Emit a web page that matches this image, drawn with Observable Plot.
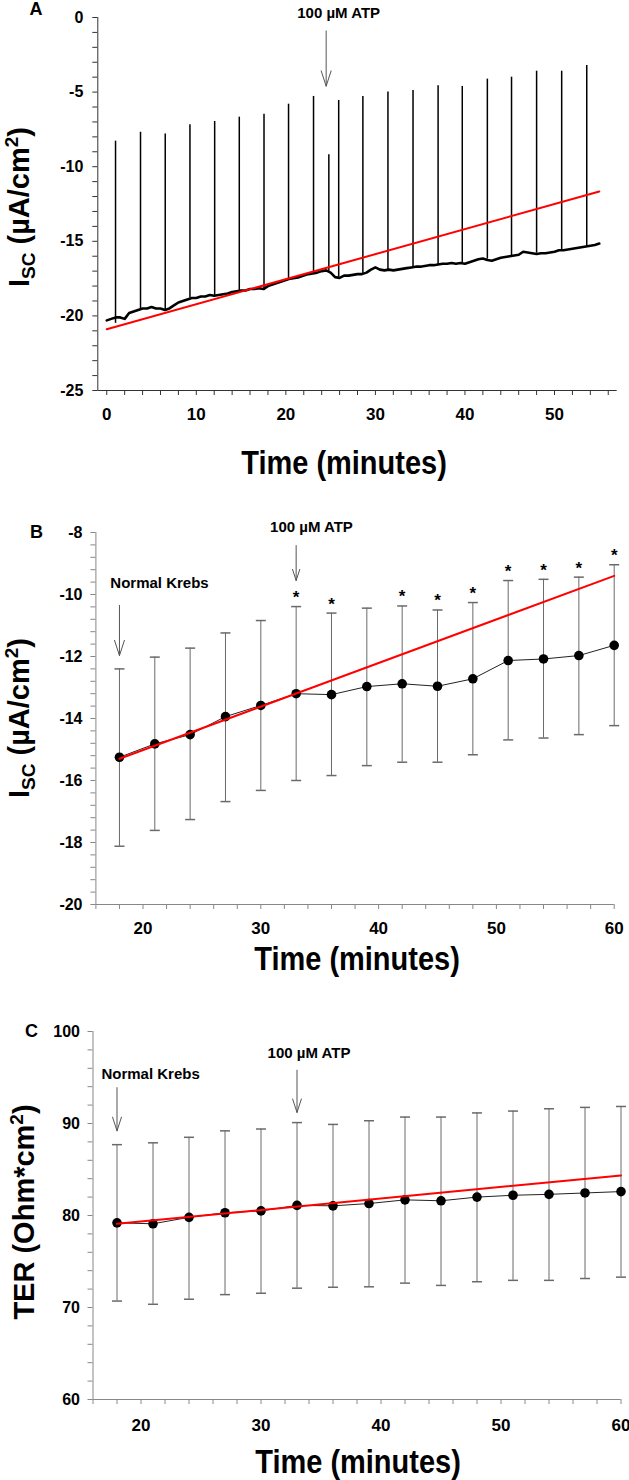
<!DOCTYPE html>
<html><head><meta charset="utf-8">
<script src="https://cdn.jsdelivr.net/npm/d3@7"></script>
<script src="https://cdn.jsdelivr.net/npm/@observablehq/plot@0.6"></script>
<style>
body{margin:0;background:#fff;}
#fig{position:relative;width:629px;height:1480px;overflow:hidden;background:#fff;}
</style></head><body><div id="fig"></div>
<script>
// ---------- Panel A data ----------
const aBaseStep = 0.5; // sampling of the read-off baseline trace (minutes)
const aBaseV = [
 -20.3,-20.2,-20.1,-20.1,-20.2,-19.8,-19.7,-19.6,-19.5,-19.5,
 -19.4,-19.5,-19.5,-19.6,-19.5,-19.3,-19.1,-19.0,-18.9,-18.8,
 -18.8,-18.7,-18.7,-18.6,-18.65,-18.6,-18.55,-18.5,-18.4,-18.35,
 -18.3,-18.3,-18.2,-18.2,-18.15,-18.2,-18.0,-17.9,-17.8,-17.7,
 -17.6,-17.5,-17.45,-17.4,-17.3,-17.2,-17.15,-17.1,-17.0,-16.95,
 -17.1,-17.4,-17.45,-17.3,-17.3,-17.25,-17.2,-17.2,-17.1,-16.9,
 -16.75,-16.9,-16.95,-16.9,-16.95,-16.9,-16.85,-16.8,-16.75,-16.7,
 -16.7,-16.65,-16.6,-16.6,-16.55,-16.5,-16.5,-16.45,-16.5,-16.45,
 -16.5,-16.4,-16.3,-16.2,-16.15,-16.25,-16.3,-16.2,-16.1,-16.05,
 -16.0,-15.95,-15.9,-15.7,-15.75,-15.8,-15.85,-15.8,-15.8,-15.75,
 -15.7,-15.6,-15.6,-15.55,-15.5,-15.45,-15.4,-15.35,-15.3,-15.25,
 -15.15];
const aBaseT = aBaseV.map((_, i) => i * aBaseStep);
const aSpikeT   = [0.98,3.77,6.53,9.29,12.05,14.8,17.56,20.3,23.09,24.8,25.9,28.6,31.4,34.2,37.0,39.7,42.5,45.2,48.0,50.8,53.6];
const aSpikeTop = [-8.29,-7.69,-7.80,-7.19,-6.97,-6.68,-6.48,-5.81,-5.29,-9.2,-5.56,-5.29,-5.0,-4.89,-4.58,-4.62,-4.13,-4.0,-3.6,-3.6,-3.22];
const aSpikeBot = [-20.5,-19.6,-19.7,-18.8,-18.7,-18.4,-18.3,-17.6,-17.1,-17.0,-17.4,-17.2,-16.9,-16.8,-16.6,-16.5,-16.2,-16.0,-15.8,-15.6,-15.4];
const aFitT = [0, 55];
const aFitV = [-20.9, -11.66];
const aNoteText = ["100 µM ATP"], aNoteT = [25.9], aNoteV = [0.3];
const aArrowT = [24.5], aArrowFrom = [-0.9], aArrowTo = [-4.6];

// ---------- Panel B data ----------
const bTime  = [18,21,24,27,30,33,36,39,42,45,48,51,54,57,60];
const bMean  = [-15.25,-14.82,-14.52,-13.94,-13.58,-13.20,-13.23,-12.97,-12.88,-12.96,-12.72,-12.13,-12.08,-11.97,-11.64];
const bUpper = [-12.40,-12.02,-11.73,-11.24,-10.84,-10.39,-10.60,-10.44,-10.37,-10.50,-10.26,-9.55,-9.51,-9.44,-9.04];
const bLower = [-18.12,-17.61,-17.26,-16.68,-16.32,-16.00,-15.84,-15.52,-15.41,-15.41,-15.17,-14.69,-14.63,-14.52,-14.23];
const bStars = [33,36,42,45,48,51,54,57,60];
const bFitT = [18, 60], bFitV = [-15.3, -9.4];
const bNoteText = ["Normal Krebs", "100 µM ATP"], bNoteT = [21.4, 34.3], bNoteV = [-9.65, -7.84];
const bArrowT = [18, 33], bArrowFrom = [-10.35, -8.42], bArrowTo = [-11.97, -9.55];

// ---------- Panel C data ----------
const cTime  = [18,21,24,27,30,33,36,39,42,45,48,51,54,57,60];
const cMean  = [79.2,79.1,79.8,80.3,80.5,81.1,81.05,81.3,81.7,81.6,82.0,82.2,82.3,82.45,82.6];
const cUpper = [87.7,87.9,88.5,89.2,89.4,90.1,89.9,90.3,90.7,90.7,91.15,91.35,91.6,91.75,91.85];
const cLower = [70.7,70.35,70.9,71.4,71.55,72.1,72.2,72.25,72.65,72.4,72.8,72.95,72.95,73.15,73.3];
const cFitT = [18, 60], cFitV = [79.1, 84.35];
const cNoteText = ["Normal Krebs", "100 µM ATP"], cNoteT = [20.8, 34.0], cNoteV = [95.4, 97.6];
const cArrowT = [18, 33], cArrowFrom = [93.9, 95.8], cArrowTo = [89.2, 91.2];

// ---------- helpers ----------
const FONT = '"Liberation Sans", Arial, Helvetica, sans-serif';
const fig = document.getElementById("fig");
const capSymbol = {draw(ctx, size) { const w = Math.sqrt(size / Math.PI); ctx.moveTo(-w, 0); ctx.lineTo(w, 0); }};
const isMult = (d, m) => { const q = d / m; return Math.abs(q - Math.round(q)) < 1e-6; };
const fmt = d => String(Math.round(d * 1000) / 1000);
const ticks = (a, b, step) => d3.range(0, Math.round((b - a) / step) + 1).map(i => a + i * step);

function axes(xd, yd, xt, yt, xMajor, yMajor, color, xPad, yPad) {
  return [
    Plot.axisY({ticks: yt, tickFormat: d => isMult(d, yMajor) ? fmt(d) : "", tickSize: 5, tickPadding: yPad,
      fontSize: 16, fontWeight: "bold", stroke: color, fill: "black", label: null}),
    Plot.axisX({ticks: xt, tickFormat: d => isMult(d, xMajor) ? fmt(d) : "", tickSize: 5, tickPadding: xPad,
      fontSize: 17, fontWeight: "bold", stroke: color, fill: "black", label: null}),
    Plot.ruleX([xd[0]], {stroke: color}),
    Plot.ruleY([yd[0]], {stroke: color})
  ];
}
function notes(T, V, S, AT, AF, ATo) {
  return [
    Plot.arrow(d3.range(AT.length), {x1: i => AT[i], x2: i => AT[i], y1: i => AF[i], y2: i => ATo[i],
      stroke: "#555", strokeWidth: 1, headAngle: 36, headLength: 24}),
    Plot.text(d3.range(S.length), {x: i => T[i], y: i => V[i], text: i => S[i], fontSize: 15, fontWeight: "bold",
      fill: "black", lineAnchor: "middle"})
  ];
}
function errorMarks(t, mean, up, lo, fitT, fitV) {
  const idx = d3.range(t.length);
  return [
    Plot.ruleX(idx, {x: i => t[i], y1: i => lo[i], y2: i => up[i], stroke: "#6a6a6a", strokeWidth: 1}),
    Plot.dot(idx, {x: i => t[i], y: i => up[i], symbol: capSymbol, r: 5, stroke: "#6a6a6a", fill: "none"}),
    Plot.dot(idx, {x: i => t[i], y: i => lo[i], symbol: capSymbol, r: 5, stroke: "#6a6a6a", fill: "none"}),
    Plot.line(idx, {x: i => t[i], y: i => mean[i], stroke: "#222", strokeWidth: 1}),
    Plot.dot(idx, {x: i => t[i], y: i => mean[i], r: 4.8, fill: "black", stroke: "none"}),
    Plot.line(d3.range(fitT.length), {x: i => fitT[i], y: i => fitV[i], stroke: "#ff0000", strokeWidth: 2})
  ];
}
function addPanel(top, h, svg) {
  const div = document.createElement("div");
  div.style.cssText = `position:absolute;left:0;top:${top}px;width:629px;height:${h}px;`;
  div.appendChild(svg);
  fig.appendChild(div);
  return svg;
}
function addText(svg, x, y, text, size, stretch = 1) {
  d3.select(svg).append("text").attr("transform", `translate(${x},${y}) scale(1,${stretch})`).attr("text-anchor", "middle")
    .attr("fill", "black").style("font-family", FONT).style("font-weight", "bold").style("font-size", size + "px").text(text);
}
function addYLabel(svg, x, y, parts) {
  const t = d3.select(svg).append("text").attr("transform", `translate(${x},${y}) rotate(-90)`)
    .attr("text-anchor", "middle").attr("fill", "black")
    .style("font-family", FONT).style("font-weight", "bold");
  for (const p of parts) t.append("tspan").text(p.t).style("font-size", p.s + "px").attr("dy", p.dy || 0);
}
const iscParts = [{t: "I", s: 29}, {t: "SC", s: 19, dy: 6}, {t: " (µA/cm", s: 29, dy: -6}, {t: "2", s: 19, dy: -11}, {t: ")", s: 29, dy: 11}];

// ---------- Panel A ----------
{
  const xd = [-1, 57], yd = [-25, 0];
  const svg = Plot.plot({
    width: 629, height: 490, marginLeft: 97.3, marginRight: 12.3, marginTop: 17, marginBottom: 100,
    x: {domain: xd}, y: {domain: yd},
    style: {fontFamily: FONT, background: "transparent", overflow: "visible"},
    marks: [
      ...axes(xd, yd, ticks(0, 56, 2), ticks(-25, 0, 1), 10, 5, "#333", 12, 9.5),
      Plot.line(d3.range(aBaseV.length), {x: i => aBaseT[i], y: i => aBaseV[i], stroke: "black", strokeWidth: 2.6}),
      Plot.ruleX(d3.range(aSpikeT.length), {x: i => aSpikeT[i], y1: i => aSpikeBot[i], y2: i => aSpikeTop[i], stroke: "black", strokeWidth: 1.5}),
      Plot.line(d3.range(aFitT.length), {x: i => aFitT[i], y: i => aFitV[i], stroke: "#ff0000", strokeWidth: 2}),
      ...notes(aNoteT, aNoteV, aNoteText, aArrowT, aArrowFrom, aArrowTo)
    ]
  });
  addPanel(0, 490, svg);
  addText(svg, 36, 15, "A", 18);
  addText(svg, 344, 474, "Time (minutes)", 29, 1.12);
  addYLabel(svg, 29, 207, iscParts);
}

// ---------- Panel B ----------
{
  const top = 490, h = 490;
  const xd = [16, 60], yd = [-20, -8];
  const svg = Plot.plot({
    width: 629, height: h, marginLeft: 95.4, marginRight: 15.3, marginTop: 42, marginBottom: 76,
    x: {domain: xd}, y: {domain: yd},
    style: {fontFamily: FONT, background: "transparent", overflow: "visible"},
    marks: [
      ...axes(xd, yd, ticks(16, 60, 2), ticks(-20, -8, 0.4), 10, 2, "#888", 12, 8.4),
      ...errorMarks(bTime, bMean, bUpper, bLower, bFitT, bFitV),
      Plot.text(bStars, {x: d => d, y: d => bUpper[bTime.indexOf(d)], text: () => "*", dy: -9, fontSize: 17, fontWeight: "bold", fill: "black", lineAnchor: "middle"}),
      ...notes(bNoteT, bNoteV, bNoteText, bArrowT, bArrowFrom, bArrowTo)
    ]
  });
  addPanel(top, h, svg);
  addText(svg, 36.5, 48, "B", 18);
  addText(svg, 357, 480, "Time (minutes)", 29, 1.12);
  addYLabel(svg, 29, 228, iscParts);
}

// ---------- Panel C ----------
{
  const top = 980, h = 500;
  const xd = [16, 60], yd = [60, 100];
  const svg = Plot.plot({
    width: 629, height: h, marginLeft: 92.5, marginRight: 8.5, marginTop: 51, marginBottom: 81,
    x: {domain: xd}, y: {domain: yd},
    style: {fontFamily: FONT, background: "transparent", overflow: "visible"},
    marks: [
      ...axes(xd, yd, ticks(16, 60, 2), ticks(60, 100, 2), 10, 10, "#888", 14, 8),
      ...errorMarks(cTime, cMean, cUpper, cLower, cFitT, cFitV),
      ...notes(cNoteT, cNoteV, cNoteText, cArrowT, cArrowFrom, cArrowTo)
    ]
  });
  addPanel(top, h, svg);
  addText(svg, 31.5, 57, "C", 18);
  addText(svg, 358, 493, "Time (minutes)", 29, 1.12);
  addYLabel(svg, 34, 232, [{t: "TER (Ohm*cm", s: 29}, {t: "2", s: 19, dy: -11}, {t: ")", s: 29, dy: 11}]);
}
</script></body></html>
